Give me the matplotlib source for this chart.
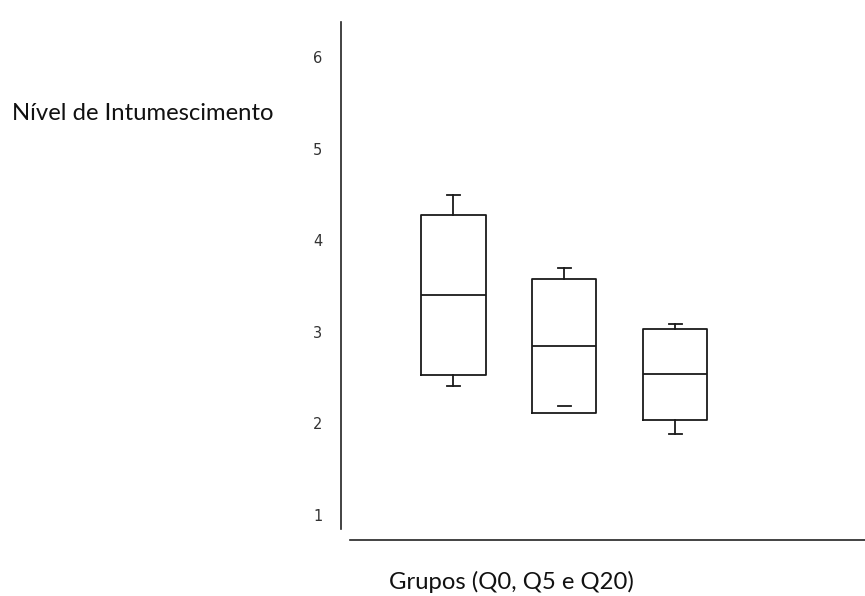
import matplotlib

matplotlib.use("Agg")
import matplotlib.pyplot as plt

# valores (nivel de intumescimento por grupo)
groups = ["Q0", "Q5", "Q20"]
q1 = [2.53, 2.11, 2.04]
medians = [3.40, 2.84, 2.54]
q3 = [4.27, 3.58, 3.03]
whisker_low = [2.41, 2.19, 1.88]
whisker_high = [4.49, 3.70, 3.09]
y_ticks = [1, 2, 3, 4, 5, 6]

W, H = 865, 596
fig = plt.figure(figsize=(W / 100, H / 100), dpi=100)
ax = fig.add_axes([341 / W, 56 / H, (865 - 341) / W, (540 - 22) / H])

stats = [
    {"label": g, "q1": a, "med": m, "q3": b, "whislo": lo, "whishi": hi, "fliers": []}
    for g, a, m, b, lo, hi in zip(groups, q1, medians, q3, whisker_low, whisker_high)
]
line = dict(color="#1a1a1a", linewidth=1.3)
art = ax.bxp(stats, positions=[1, 2, 3], widths=0.58, capwidths=0.115,
             showfliers=False, boxprops=line, medianprops=line,
             whiskerprops=line, capprops=line)
# no original, o "bigode" inferior de Q5 fica dentro da caixa: so aparece o traco
for i, (a, lo) in enumerate(zip(q1, whisker_low)):
    if lo > a:
        art["whiskers"][2 * i].set_visible(False)

ax.set_xlim(-0.013, 4.712)
ax.set_ylim(0.727, 6.382)
ax.set_yticks(y_ticks)
ax.set_yticklabels([str(t) for t in y_ticks], fontsize=10.5, color="#333333",
                   family="DejaVu Sans")
ax.set_xticks([])
ax.tick_params(axis="y", length=0, pad=13.5)

for s in ("top", "right"):
    ax.spines[s].set_visible(False)
ax.spines["left"].set_bounds(0.847, 6.382)
ax.spines["bottom"].set_bounds(0.069, 4.712)
for s in ("left", "bottom"):
    ax.spines[s].set_color("#222222")
    ax.spines[s].set_linewidth(1.2)

fig.text(12 / W, 1 - 113 / H, "Nível de Intumescimento", fontsize=17.2,
         family="Lato", color="#111111", ha="left", va="center")
fig.text(511 / W, 1 - 582 / H, "Grupos (Q0, Q5 e Q20)", fontsize=17.2,
         family="Lato", color="#111111", ha="center", va="center")

fig.savefig("out.png", dpi=100)
